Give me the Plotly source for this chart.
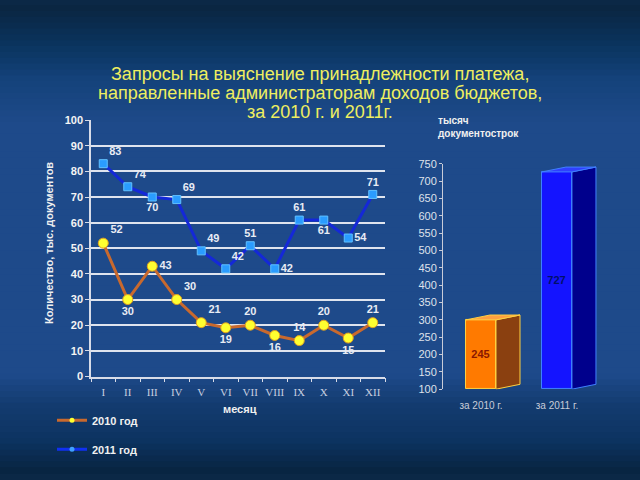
import plotly.graph_objects as go

# ---------------- data ----------------
months = ["I", "II", "III", "IV", "V", "VI", "VII", "VIII", "IX", "X", "XI", "XII"]
y2010 = [52, 30, 43, 30, 21, 19, 20, 16, 14, 20, 15, 21]
y2011 = [83, 74, 70, 69, 49, 42, 51, 42, 61, 61, 54, 71]
pos2010 = ["top right", "bottom center", "middle right", "top right", "top right", "bottom center",
           "top center", "bottom center", "top center", "top center", "bottom center", "top center"]
pos2011 = ["top right", "top right", "bottom center", "top right", "top right", "top right",
           "top center", "middle right", "top center", "bottom center", "middle right", "top center"]

bar_cats = ["за 2010 г.", "за 2011 г."]
bar_heights = [300, 727]          # heights as drawn in the picture
bar_labels = ["245", "727"]       # labels as printed on the bars
bar_floor = 100
right_ticks = list(range(100, 751, 50))

title_lines = ["Запросы на выяснение принадлежности платежа,",
               "направленные администраторам доходов бюджетов,",
               "за 2010 г. и 2011г."]

fig = go.Figure()

# ---------------- background gradient ----------------
stops = [(0, (11, 37, 64)), (40, (10, 52, 94)), (75, (20, 66, 122)), (120, (30, 74, 138)),
         (380, (30, 74, 138)), (410, (20, 60, 112)), (445, (13, 52, 98)), (480, (8, 36, 64))]
def col_at(y):
    for (y0, c0), (y1, c1) in zip(stops[:-1], stops[1:]):
        if y0 <= y <= y1:
            t = (y - y0) / (y1 - y0) if y1 > y0 else 0
            return tuple(int(c0[i] + (c1[i] - c0[i]) * t) for i in range(3))
    return stops[-1][1]
shapes = []
band = 6
for yy in range(0, 480, band):
    c = col_at(yy + band / 2)
    shapes.append(dict(type="rect", xref="paper", yref="paper", x0=-0.02, x1=1.02,
                       y0=1 - (yy + band) / 480, y1=1 - yy / 480 + 0.002,
                       fillcolor="rgb(%d,%d,%d)" % c, line=dict(width=0), layer="below"))

# ---------------- left line chart ----------------
lab_font = dict(family="Arial", size=11, color="#e8ecf4", weight="bold")
c2010_line, c2010_mk = "#c8692e", "#ffff30"
c2011_line, c2011_mk = "#1428d8", "#2a9cff"
fig.add_trace(go.Scatter(
    x=months, y=y2010, name="2010 год", mode="lines+markers+text",
    line=dict(color=c2010_line, width=3),
    marker=dict(symbol="circle", size=10, color=c2010_mk, line=dict(color="#e0a020", width=1)),
    text=[str(v) for v in y2010], textposition=pos2010, textfont=lab_font,
    showlegend=False, xaxis="x", yaxis="y"))
fig.add_trace(go.Scatter(
    x=months, y=y2011, name="2011 год", mode="lines+markers+text",
    line=dict(color=c2011_line, width=3),
    marker=dict(symbol="square", size=8, color=c2011_mk, line=dict(color="#60c0ff", width=1)),
    text=[str(v) for v in y2011], textposition=pos2011, textfont=lab_font,
    showlegend=False, xaxis="x", yaxis="y"))
# legend entries (small markers as in the original legend)
fig.add_trace(go.Scatter(x=[None], y=[None], name="2010 год", mode="lines+markers",
                         line=dict(color=c2010_line, width=3),
                         marker=dict(symbol="circle", size=5, color=c2010_mk),
                         legendgroup="a", xaxis="x", yaxis="y"))
fig.add_trace(go.Scatter(x=[None], y=[None], name="2011 год", mode="lines+markers",
                         line=dict(color="#1030f0", width=3),
                         marker=dict(symbol="circle", size=5, color="#40a0ff"),
                         legendgroup="b", xaxis="x", yaxis="y"))

# ---------------- right 3D bars ----------------
xi = list(range(len(bar_cats)))
w = 0.395
dx = 0.316
dy = 14
front = ["#ff7a00", "#1414ff"]
side = ["#8a4010", "#00008c"]
top = ["#ffa040", "#3040ff"]
edge = ["#ffd040", "#4080ff"]
for i, v in enumerate(bar_heights):
    xr = xi[i] + w / 2
    xl = xi[i] - w / 2
    fig.add_trace(go.Scatter(
        x=[xr, xr + dx, xr + dx, xr, xr], y=[bar_floor, bar_floor + dy, v + dy, v, bar_floor],
        fill="toself", fillcolor=side[i], mode="lines", line=dict(color=edge[i], width=1),
        showlegend=False, hoverinfo="skip", xaxis="x2", yaxis="y2"))
    fig.add_trace(go.Scatter(
        x=[xl, xr, xr + dx, xl + dx, xl], y=[v, v, v + dy, v + dy, v],
        fill="toself", fillcolor=top[i], mode="lines", line=dict(color=edge[i], width=1),
        showlegend=False, hoverinfo="skip", xaxis="x2", yaxis="y2"))
fig.add_trace(go.Bar(
    x=xi, y=[v - bar_floor for v in bar_heights], base=bar_floor, width=w,
    marker=dict(color=front, line=dict(color=edge, width=1)),
    text=bar_labels, textposition="inside", insidetextanchor="middle",
    textfont=dict(family="Arial", size=11, color=["#8a1800", "#00106a"], weight="bold"),
    showlegend=False, hoverinfo="skip", xaxis="x2", yaxis="y2"))

# ---------------- annotations ----------------
ann = [
    dict(text="Количество, тыс. документов", x=49 / 640, y=1 - 243 / 480, xref="paper", yref="paper",
         textangle=-90, showarrow=False, yanchor="middle", xanchor="center",
         font=dict(family="Arial", size=11, color="#f0f0f0", weight="bold")),
    dict(text="месяц", x=240 / 640, y=1 - 413 / 480, xref="paper", yref="paper", showarrow=False,
         yanchor="middle", xanchor="center",
         font=dict(family="Arial", size=11, color="#f0f0f0", weight="bold")),
    dict(text="тысяч<br>документострок", x=436 / 640, y=1 - 124 / 480, xref="paper", yref="paper",
         showarrow=False, xanchor="left", yanchor="middle", align="left",
         font=dict(family="Arial", size=10, color="#f0f0f0", weight="bold")),
]
for k, (line_txt, yc) in enumerate(zip(title_lines, [70, 89, 109])):
    ann.append(dict(text=line_txt, x=0.5, y=1 - yc / 480, xref="paper", yref="paper", showarrow=False,
                    xanchor="center", yanchor="middle",
                    font=dict(family="Arial", size=18, color="#eeee60")))

fig.update_layout(
    width=640, height=480, margin=dict(l=0, r=0, t=0, b=0),
    paper_bgcolor="rgb(11,40,70)", plot_bgcolor="rgba(0,0,0,0)",
    shapes=shapes, annotations=ann, showlegend=True,
    legend=dict(x=52 / 640, y=1 - 410 / 480, xanchor="left", yanchor="top",
                bgcolor="rgba(0,0,0,0)", traceorder="grouped", tracegroupgap=10,
                font=dict(family="Arial", size=11, color="#f0f0f0", weight="bold"),
                itemwidth=30),
    xaxis=dict(domain=[91 / 640, 385 / 640], anchor="y", type="category", range=[-0.5, 11.5],
               showgrid=False, showline=True, linecolor="#d8dce8", linewidth=1.5,
               ticks="outside", tickson="boundaries", ticklen=4, tickcolor="#d8dce8",
               tickangle=0, ticklabelstandoff=5,
               tickfont=dict(family="Times New Roman, Liberation Serif", size=11, color="#c8d0e0")),
    yaxis=dict(domain=[1 - 380 / 480, 1 - 117 / 480], anchor="x", range=[0, 100], dtick=10,
               showgrid=True, gridcolor="#dfe4ee", gridwidth=1.5, zeroline=False,
               showline=True, linecolor="#d8dce8", linewidth=1.5,
               ticks="outside", ticklen=4, tickcolor="#d8dce8",
               tickfont=dict(family="Arial", size=11, color="#f4f4f4", weight="bold")),
    xaxis2=dict(domain=[443 / 640, 620 / 640], anchor="y2", range=[-0.5, 1.83],
                showgrid=False, zeroline=False, showline=False,
                tickvals=xi, ticktext=bar_cats, ticks="outside", ticklen=7,
                tickcolor="rgba(0,0,0,0)", tickangle=0,
                tickfont=dict(family="Arial", size=10, color="#c8ccd8")),
    yaxis2=dict(domain=[1 - 393 / 480, 1 - 162 / 480], anchor="x2", range=[100, 750],
                tickvals=right_ticks, showgrid=False, zeroline=False,
                showline=True, linecolor="#c8ccd8", linewidth=1,
                ticks="outside", ticklen=3, tickcolor="#c8ccd8",
                tickfont=dict(family="Arial", size=11, color="#dfe2ea")),
    bargap=0,
)

fig.write_html("out.html")
